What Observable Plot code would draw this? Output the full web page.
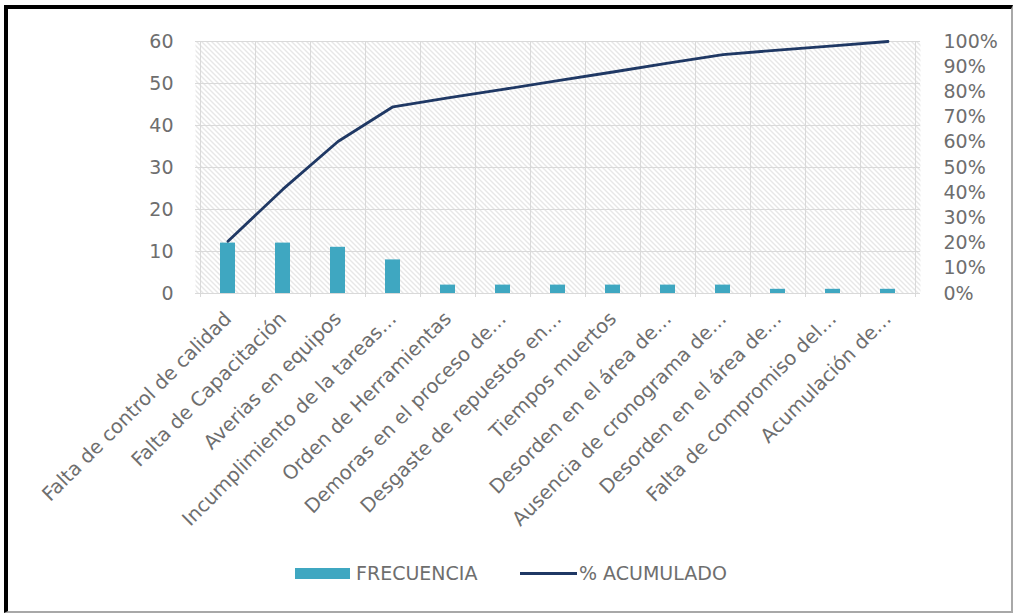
<!DOCTYPE html>
<html>
<head>
<meta charset="utf-8">
<script src="https://cdn.jsdelivr.net/npm/d3@7"></script>
<script src="https://cdn.jsdelivr.net/npm/@observablehq/plot@0.6"></script>
<style>
  html, body { margin: 0; padding: 0; background: #fff; }
  #pagina { position: relative; width: 1014px; height: 616px; overflow: hidden; background: #fff; }
  #borde {
    position: absolute; left: 4px; top: 5px; width: 1009px; height: 608px; box-sizing: border-box;
    border-left: 4px solid #000; border-top: 4px solid #000;
    border-right: 2px solid #a8a8a8; border-bottom: 2px solid #a8a8a8;
    pointer-events: none;
  }
  #grafico { position: absolute; left: 0; top: 0; }
  .leyenda { position: absolute; font-family: "DejaVu Sans", sans-serif; font-size: 19px; color: #6e6e6e; line-height: 1; white-space: nowrap; }
  .muestra { position: absolute; }
</style>
</head>
<body>
<div id="pagina">
  <div id="grafico"></div>
  <div class="muestra" style="left:295px; top:568px; width:55px; height:11px; background:#3fa7c1;"></div>
  <div class="leyenda" style="left:356px; top:564px;">FRECUENCIA</div>
  <div class="muestra" style="left:520px; top:572px; width:57px; height:3px; background:#1f3864;"></div>
  <div class="leyenda" style="left:579px; top:564px;">% ACUMULADO</div>
  <div id="borde"></div>
</div>
<script>
// Causas de fallas: frecuencia y porcentaje acumulado (diagrama de Pareto)
const categorias = [
  "Falta de control de calidad",
  "Falta de Capacitación",
  "Averias en equipos",
  "Incumplimiento de la tareas…",
  "Orden de Herramientas",
  "Demoras en el proceso de…",
  "Desgaste de repuestos en…",
  "Tiempos muertos",
  "Desorden en el área de…",
  "Ausencia de cronograma de…",
  "Desorden en el área de…",
  "Falta de compromiso del…",
  "Acumulación de…"
];
const frecuencia = [12, 12, 11, 8, 2, 2, 2, 2, 2, 2, 1, 1, 1];
const acumulado = [20.7, 41.4, 60.3, 74.1, 77.6, 81.0, 84.5, 87.9, 91.4, 94.8, 96.6, 98.3, 100];
const ticksFrecuencia = [0, 10, 20, 30, 40, 50, 60];
const ticksPorcentaje = [0, 10, 20, 30, 40, 50, 60, 70, 80, 90, 100];

const maxFrecuencia = 60;
const aEjeIzq = p => p * maxFrecuencia / 100;   // % acumulado -> escala del eje izquierdo

const datos = categorias.map((c, i) => ({i, categoria: c, frecuencia: frecuencia[i], acumulado: acumulado[i]}));

const colorBarra = "#3fa7c1";
const colorLinea = "#1f3864";
const colorRejilla = "#d9d9d9";

// Líneas verticales de la rejilla entre categorías
function rejillaVertical(index, scales, values, dim) {
  const x = scales.x;
  const paso = x.step ? x.step() : (dim.width - dim.marginLeft - dim.marginRight) / categorias.length;
  const ancho = x.bandwidth ? x.bandwidth() : 0;
  const inicio = x(0) - (paso - ancho) / 2;
  const y0 = dim.marginTop, y1 = dim.height - dim.marginBottom + 4;
  const g = d3.create("svg:g");
  for (let k = 0; k <= categorias.length; k++) {
    const px = Math.round(inicio + k * paso) + 0.5;
    g.append("line").attr("x1", px).attr("x2", px).attr("y1", y0).attr("y2", y1)
      .attr("stroke", colorRejilla).attr("stroke-width", 1);
  }
  return g.node();
}

const fuente = "DejaVu Sans, sans-serif";

const svg = Plot.plot({
  width: 1014,
  height: 545,
  marginTop: 41,
  marginBottom: 252,
  marginLeft: 195,
  marginRight: 94,
  style: {fontFamily: fuente, fontSize: "19px", color: "#6e6e6e", background: "transparent"},
  x: {type: "band", domain: d3.range(categorias.length), paddingInner: 0.73, paddingOuter: 0.365},
  y: {domain: [0, maxFrecuencia]},
  marks: [
    Plot.frame({fill: "url(#trama)", stroke: null}),
    Plot.gridY(ticksFrecuencia, {stroke: colorRejilla, strokeOpacity: 1}),
    rejillaVertical,
    Plot.barY(datos, {x: "i", y: "frecuencia", fill: colorBarra}),
    Plot.line(datos, {x: "i", y: d => aEjeIzq(d.acumulado), stroke: colorLinea, strokeWidth: 2.8}),
    Plot.axisY(ticksFrecuencia, {anchor: "left", tickSize: 0, tickPadding: 22, label: null, fontSize: 19}),
    Plot.axisY(ticksPorcentaje.map(aEjeIzq), {
      anchor: "right", tickSize: 0, tickPadding: 23, label: null, fontSize: 19, textAnchor: "start",
      tickFormat: d => Math.round(d * 100 / maxFrecuencia) + "%"
    }),
    Plot.axisX({anchor: "bottom", tickSize: 0, tickPadding: 22, tickRotate: -45, label: null, fontSize: 19.5,
      tickFormat: i => categorias[i]})
  ]
});

// Patrón de rayado diagonal del área de trazado
const defs = d3.select(svg).insert("defs", ":first-child");
const trama = defs.append("pattern").attr("id", "trama")
  .attr("patternUnits", "userSpaceOnUse").attr("width", 5).attr("height", 5);
trama.append("rect").attr("width", 5).attr("height", 5).attr("fill", "#fff");
trama.append("path").attr("d", "M-1,-1L6,6M-1,4L1,6M4,-1L6,1")
  .attr("stroke", "#cfcfcf").attr("stroke-width", 1);

document.getElementById("grafico").appendChild(svg);
</script>
</body>
</html>
